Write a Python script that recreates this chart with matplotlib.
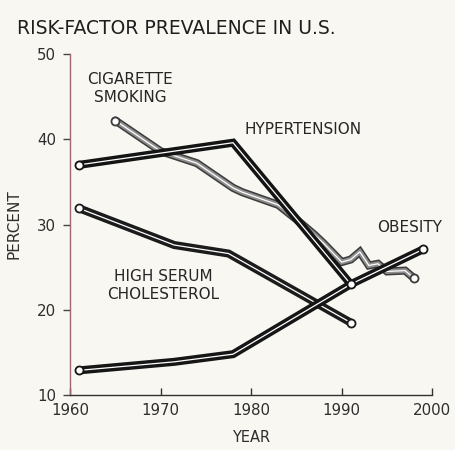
import matplotlib
matplotlib.use("Agg")
import matplotlib.pyplot as plt

# ---- data ----
smoke_years = [1965, 1970, 1974, 1978, 1979, 1983, 1985, 1987, 1988, 1990, 1991, 1992, 1993, 1994, 1995, 1997, 1998]
smoke_vals = [42.2, 38.6, 37.2, 34.3, 33.8, 32.3, 30.6, 28.8, 27.8, 25.6, 25.9, 26.8, 25.2, 25.4, 24.5, 24.6, 23.7]

hyper_years = [1961, 1978, 1991]
hyper_vals = [37.0, 39.6, 23.0]

chol_years = [1961, 1971.5, 1977.5, 1991]
chol_vals = [31.9, 27.6, 26.6, 18.5]

obes_years = [1961, 1971.5, 1978, 1991, 1999]
obes_vals = [12.9, 13.9, 14.8, 23.0, 27.1]

x_ticks = [1960, 1970, 1980, 1990, 2000]
y_ticks = [10, 20, 30, 40, 50]

BG = "#f8f7f1"
FONT = dict(family="DejaVu Sans")

fig = plt.figure(figsize=(4.55, 4.5), dpi=100, facecolor=BG)
ax = fig.add_axes([0.154, 0.122, 0.796, 0.758], facecolor=BG)


def tube(x, y, outer, mid=None, z=2):
    ax.plot(x, y, color=outer, lw=5.8, solid_capstyle="round",
            solid_joinstyle="miter", zorder=z)
    if mid is not None:
        ax.plot(x, y, color=mid, lw=3.6, solid_capstyle="round",
                solid_joinstyle="miter", zorder=z + 0.1)
    ax.plot(x, y, color="white", lw=0.9, solid_capstyle="round",
            solid_joinstyle="miter", zorder=z + 0.2)
    ax.plot([x[0], x[-1]], [y[0], y[-1]], ls="none", marker="o", ms=5.8,
            mfc="white", mec=outer, mew=1.3, zorder=z + 0.3)


tube(smoke_years, smoke_vals, "#3c3c3c", "#8e8e8e", z=2)
tube(chol_years, chol_vals, "#1c1c1c", z=3)
tube(obes_years, obes_vals, "#161616", z=4)
tube(hyper_years, hyper_vals, "#141414", z=5)

ax.set_xlim(1960, 2000)
ax.set_ylim(10, 50)
ax.set_xticks(x_ticks)
ax.set_yticks(y_ticks)
ax.set_xticklabels([str(v) for v in x_ticks], fontsize=10.8, color="#2e2e2e", **FONT)
ax.set_yticklabels([str(v) for v in y_ticks], fontsize=10.8, color="#2e2e2e", **FONT)
ax.tick_params(axis="x", direction="in", length=5, width=1, color="#333333", pad=6)
ax.tick_params(axis="y", direction="out", length=5, width=1, color="#444444", pad=5)

for s in ["top", "right"]:
    ax.spines[s].set_visible(False)
ax.spines["left"].set_color("#9b6673")
ax.spines["left"].set_linewidth(1.0)
ax.spines["bottom"].set_color("#333333")
ax.spines["bottom"].set_linewidth(1.0)

ax.set_xlabel("YEAR", fontsize=10.5, color="#2e2e2e", labelpad=8, **FONT)
ax.set_ylabel("PERCENT", fontsize=11, color="#2e2e2e", labelpad=11, **FONT)

lab = dict(fontsize=11, color="#262626", linespacing=1.25, **FONT)
ax.text(1966.6, 45.9, "CIGARETTE\nSMOKING", ha="center", va="center", **lab)
ax.text(1979.3, 41.1, "HYPERTENSION", ha="left", va="center", **lab)
ax.text(1993.9, 29.6, "OBESITY", ha="left", va="center", **lab)
ax.text(1970.3, 22.9, "HIGH SERUM\nCHOLESTEROL", ha="center", va="center", **lab)

fig.text(0.037, 0.937, "RISK-FACTOR PREVALENCE IN U.S.", fontsize=13.5,
         color="#1e1e1e", ha="left", va="center", **FONT)

fig.savefig("out.png", dpi=100, facecolor=BG)
